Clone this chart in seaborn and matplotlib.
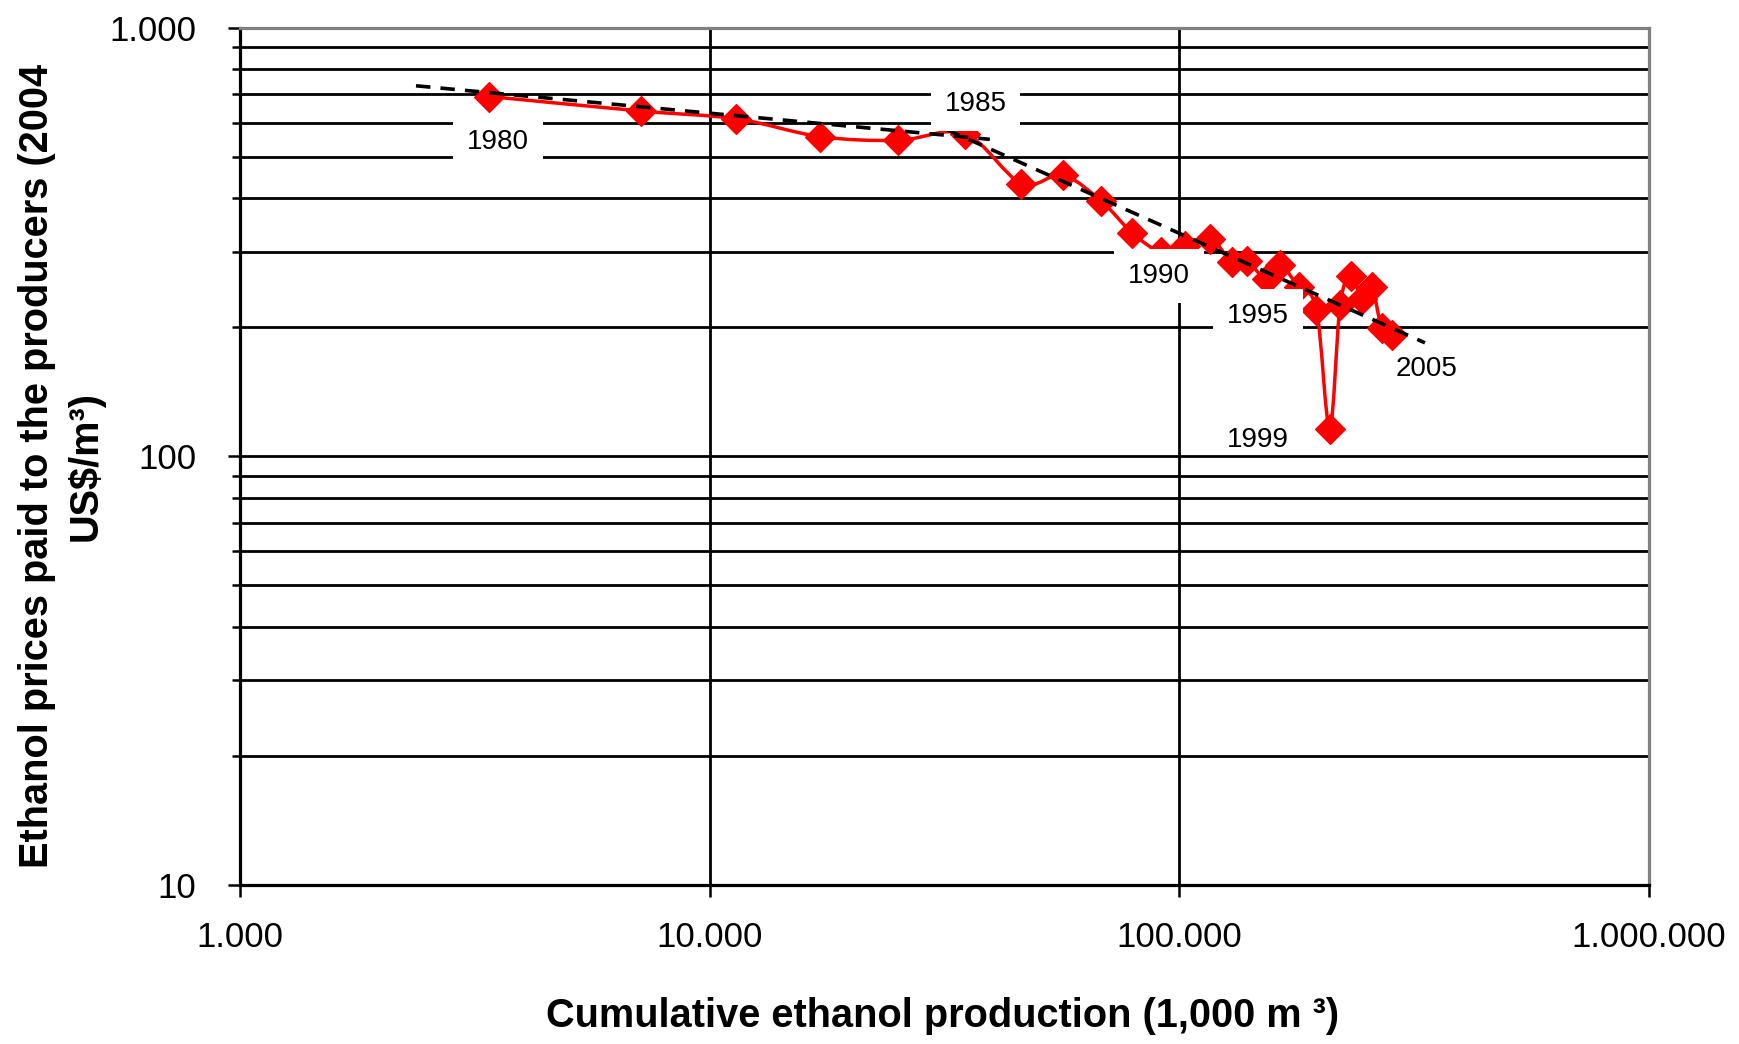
import numpy as np
import pandas as pd
import matplotlib
matplotlib.use("Agg")
import matplotlib.pyplot as plt
from matplotlib.path import Path
from matplotlib.patches import PathPatch
from matplotlib.ticker import LogLocator, FuncFormatter, NullFormatter, NullLocator
import seaborn as sns

# Ethanol learning curve, Brazil 1980-2005
years = list(range(1980, 2006))
cum_production = [3390, 7150, 11400, 17200, 25200, 34900, 46100, 56400, 68200, 79400,
                  91500, 102900, 116300, 129600, 139000, 153400, 164200, 179600, 195900,
                  209000, 220000, 232400, 244700, 257000, 269900, 284100]
price = [691, 639, 613, 557, 546, 566, 433, 453, 394, 332,
         300, 310, 322, 284, 286, 259, 279, 248, 220,
         116, 226, 264, 233, 248, 199, 192]

# Power-law trend lines (1980-1985 and 1985-2005)
trend_early_x = [2370, 39500]
trend_early_y = [732, 549]
trend_late_x = [31900, 333400]
trend_late_y = [579, 184]

labelled_years = [1980, 1985, 1990, 1995, 1999, 2005]

df = pd.DataFrame({"year": years, "production": cum_production, "price": price})

sns.set_theme(style="white")
plt.rcParams["font.family"] = ["Liberation Sans", "DejaVu Sans"]
plt.rcParams["text.color"] = "black"
plt.rcParams["axes.labelcolor"] = "black"
plt.rcParams["xtick.color"] = "black"
plt.rcParams["ytick.color"] = "black"

fig = plt.figure(figsize=(17.39, 10.44), dpi=100)
ax = fig.add_axes([240 / 1739, 1 - 885 / 1044, (1649 - 240) / 1739, (885 - 27.7) / 1044])
ax.set_facecolor("white")

# Smoothed price curve (cubic Bezier through the points in log-log space)
def smooth_path(xs, ys):
    pts = np.column_stack([np.log10(xs), np.log10(ys)])
    n = len(pts)
    verts = [pts[0]]
    codes = [Path.MOVETO]
    for i in range(n - 1):
        p0 = pts[max(i - 1, 0)]
        p1 = pts[i]
        p2 = pts[i + 1]
        p3 = pts[min(i + 2, n - 1)]
        verts += [p1 + (p2 - p0) / 6.0, p2 - (p3 - p1) / 6.0, p2]
        codes += [Path.CURVE4] * 3
    return Path(10 ** np.array(verts), codes)

ax.add_patch(PathPatch(smooth_path(df["production"].values, df["price"].values),
                       fill=False, edgecolor="#ff0000", linewidth=2.5, zorder=3))

sns.scatterplot(data=df, x="production", y="price", marker="D", s=230,
                color="#ff0000", edgecolor="#ff0000", linewidth=1.0, zorder=4, ax=ax)

# Trend lines
for tx, ty in [(trend_early_x, trend_early_y), (trend_late_x, trend_late_y)]:
    ax.plot(tx, ty, color="black", linewidth=2.6, linestyle=(0, (4, 2.8)),
            dash_capstyle="butt", zorder=5)

ax.set_xscale("log")
ax.set_yscale("log")
ax.set_xlim(1000, 1_000_000)
ax.set_ylim(10, 1000)

# Year labels
label_offsets = {1980: (6.5, -32.8), 1985: (7.9, 21.6), 1990: (-1.4, -17.5),
                 1995: (-6.1, -26.6), 1999: (-51.8, -7.9), 2005: (24.5, -24.7)}
boxed = {1980, 1985, 1990, 1995}
for yr in labelled_years:
    row = df[df["year"] == yr].iloc[0]
    bbox = dict(boxstyle="square,pad=0.5", facecolor="white", edgecolor="none") if yr in boxed else None
    ax.annotate(str(yr), xy=(row["production"], row["price"]), xytext=label_offsets[yr],
                textcoords="offset points", ha="center", va="center", fontsize=20,
                color="black", bbox=bbox, zorder=6)

# Grid
ax.yaxis.set_major_locator(LogLocator(base=10, numticks=10))
ax.yaxis.set_minor_locator(LogLocator(base=10, subs=np.arange(2, 10), numticks=20))
ax.xaxis.set_major_locator(LogLocator(base=10, numticks=10))
ax.xaxis.set_minor_locator(NullLocator())
ax.set_axisbelow(True)
ax.grid(which="both", axis="y", color="black", linewidth=2.0)
ax.grid(which="major", axis="x", color="black", linewidth=2.0)

fmt = FuncFormatter(lambda v, pos: f"{int(round(v)):,}".replace(",", "."))
ax.xaxis.set_major_formatter(fmt)
ax.yaxis.set_major_formatter(fmt)
ax.yaxis.set_minor_formatter(NullFormatter())

ax.tick_params(axis="x", which="major", bottom=True, direction="out", length=8.6,
               width=1.8, color="black", labelsize=25, pad=17, labelcolor="black")
ax.tick_params(axis="y", which="major", left=True, direction="out", length=8.6,
               width=1.8, color="black", labelsize=25, pad=23, labelcolor="black")
ax.tick_params(axis="y", which="minor", left=True, direction="out", length=5.8,
               width=1.8, color="black")

for side in ["left", "bottom"]:
    ax.spines[side].set_color("black")
    ax.spines[side].set_linewidth(2.3)
for side in ["top", "right"]:
    ax.spines[side].set_color("#808080")
    ax.spines[side].set_linewidth(2.3)
for sp in ax.spines.values():
    sp.set_zorder(2.6)

ax.set_xlabel("")
ax.set_ylabel("")

fig.text(943 / 1739, 1 - 1016 / 1044, "Cumulative ethanol production (1,000 m \u00b3)",
         ha="center", va="center", fontsize=28.6, fontweight="bold", color="black")
fig.text(61 / 1739, 1 - 466 / 1044,
         "Ethanol prices paid to the producers (2004\nUS\\$/m\u00b3)",
         ha="center", va="center", rotation=90, fontsize=28.6, fontweight="bold",
         color="black", multialignment="center", linespacing=1.35)

fig.savefig("out.png", dpi=100, facecolor="white")
